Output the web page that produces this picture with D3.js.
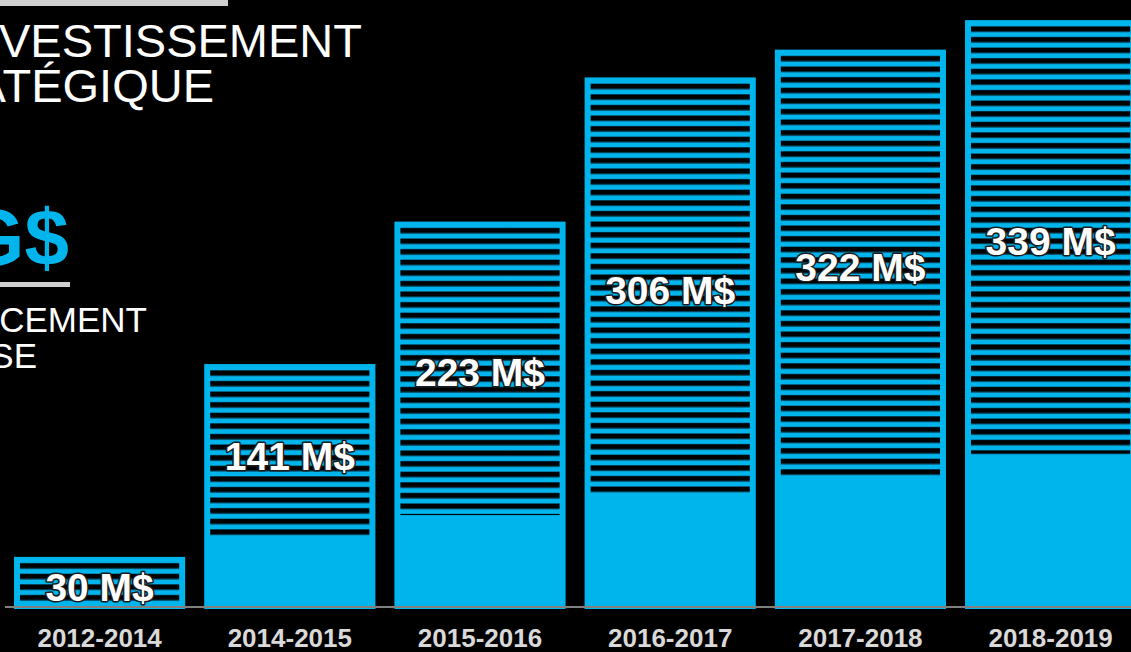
<!DOCTYPE html>
<html>
<head>
<meta charset="utf-8">
<style>
  body{ margin:0; background:#000; }
  svg{ display:block; font-family: "Liberation Sans", Arial, sans-serif; }
</style>
</head>
<body>
<svg id="chart" width="1131" height="652"></svg>

<script src="https://d3js.org/d3.v7.min.js"></script>
<script>
    // données
    const categories = ['2012-2014', '2014-2015', '2015-2016', '2016-2017', '2017-2018', '2018-2019']
    const totals     = [30, 141, 223, 306, 322, 339]     // M$ (valeur affichée)
    const solidPart  = [0, 40, 54, 66, 76, 89]           // partie pleine en bas de la barre
    const valueLabels = totals.map(v => v + ' M$')

    const cyan = '#00b5ec'
    const svg = d3.select('#chart')

    svg.append('rect')
       .attr('width', 1131)
       .attr('height', 652)
       .attr('fill', '#000')

    // dégradé pour les rayures
    const defs = svg.append('defs')
    const grad = defs.append('linearGradient')
                     .attr('id', 'stripe')
                     .attr('x1', 0).attr('x2', 0)
                     .attr('y1', 0).attr('y2', 1)
    grad.append('stop').attr('offset', '0%').attr('stop-color', '#08597a')
    grad.append('stop').attr('offset', '18%').attr('stop-color', '#000')
    grad.append('stop').attr('offset', '68%').attr('stop-color', '#000')
    grad.append('stop').attr('offset', '100%').attr('stop-color', '#0a7aa3')

    // échelles
    const x = d3.scaleBand()
                .domain(categories)
                .range([4.5, 4.5 + 6 * 190.2])
                .paddingInner(0.1)
                .paddingOuter(0.05)

    const y = d3.scaleLinear()
                .domain([0, 350])
                .range([609, 1])

    const border = 6
    const period = 10.6

    const bars = categories.map((c, i) => ({
        cat: c,
        total: totals[i],
        solid: solidPart[i],
        label: valueLabels[i]
    }))

    const g = svg.append('g')
                 .selectAll('g')
                 .data(bars)
                 .join('g')

    // barre complète
    g.append('rect')
     .attr('x', d => x(d.cat))
     .attr('y', d => y(d.total))
     .attr('width', x.bandwidth())
     .attr('height', d => y(0) - y(d.total))
     .attr('fill', cyan)

    // rayures horizontales dans la partie supérieure
    g.each(function(d){
        const top = y(d.total) + border
        const bottom = d.solid > 0 ? y(d.solid) : y(0) - border
        const rows = d3.range(top, bottom - 1, period)
        d3.select(this).selectAll('rect.stripe')
          .data(rows)
          .join('rect')
          .attr('class', 'stripe')
          .attr('x', x(d.cat) + border)
          .attr('y', r => r)
          .attr('width', x.bandwidth() - 2 * border)
          .attr('height', r => Math.min(6.4, bottom - r))
          .attr('fill', 'url(#stripe)')
    })

    // étiquettes de valeur, centrées dans la partie rayée
    g.append('text')
     .attr('x', d => x(d.cat) + x.bandwidth() / 2)
     .attr('y', d => {
         const top = y(d.total)
         const bottom = d.solid > 0 ? y(d.solid) : y(0)
         return (top + bottom) / 2 + 18
     })
     .attr('text-anchor', 'middle')
     .attr('font-size', 39)
     .attr('font-weight', 'bold')
     .attr('fill', '#fff')
     .attr('stroke', '#1a1a1a')
     .attr('stroke-width', 3)
     .attr('paint-order', 'stroke')
     .attr('stroke-linejoin', 'round')
     .text(d => d.label)

    // ligne de base
    svg.append('line')
       .attr('x1', 5).attr('x2', 1131)
       .attr('y1', 607).attr('y2', 607)
       .attr('stroke', '#808080')
       .attr('stroke-width', 2)

    // axe X
    const xAxis = d3.axisBottom(x).tickSize(0).tickPadding(0)
    const axisG = svg.append('g')
                     .attr('transform', 'translate(0,629)')
                     .call(xAxis)
    axisG.select('.domain').remove()
    axisG.selectAll('text')
         .attr('dy', '0.71em')
         .attr('font-size', 26)
         .attr('font-weight', 'bold')
         .attr('font-family', '"Liberation Sans", Arial, sans-serif')
         .attr('fill', '#d9d9d9')

    // textes à gauche (coupés par le bord)
    svg.append('rect')
       .attr('x', 0).attr('y', 0)
       .attr('width', 228).attr('height', 6)
       .attr('fill', '#d0d0d0')

    svg.append('text')
       .attr('x', 362).attr('y', 57)
       .attr('text-anchor', 'end')
       .attr('font-size', 47)
       .attr('fill', '#fff')
       .text('INVESTISSEMENT')

    svg.append('text')
       .attr('x', 214).attr('y', 102)
       .attr('text-anchor', 'end')
       .attr('font-size', 47)
       .attr('fill', '#fff')
       .text('STRATÉGIQUE')

    svg.append('text')
       .attr('x', 69).attr('y', 265)
       .attr('text-anchor', 'end')
       .attr('font-size', 80)
       .attr('font-weight', 'bold')
       .attr('fill', cyan)
       .text('G$')

    svg.append('rect')
       .attr('x', 0).attr('y', 282)
       .attr('width', 70).attr('height', 5)
       .attr('fill', '#d0d0d0')

    svg.append('text')
       .attr('x', 147).attr('y', 332)
       .attr('text-anchor', 'end')
       .attr('font-size', 35)
       .attr('fill', '#fff')
       .text('CEMENT')

    svg.append('text')
       .attr('x', 37).attr('y', 368)
       .attr('text-anchor', 'end')
       .attr('font-size', 35)
       .attr('fill', '#fff')
       .text('SE')
</script>
</body>
</html>
